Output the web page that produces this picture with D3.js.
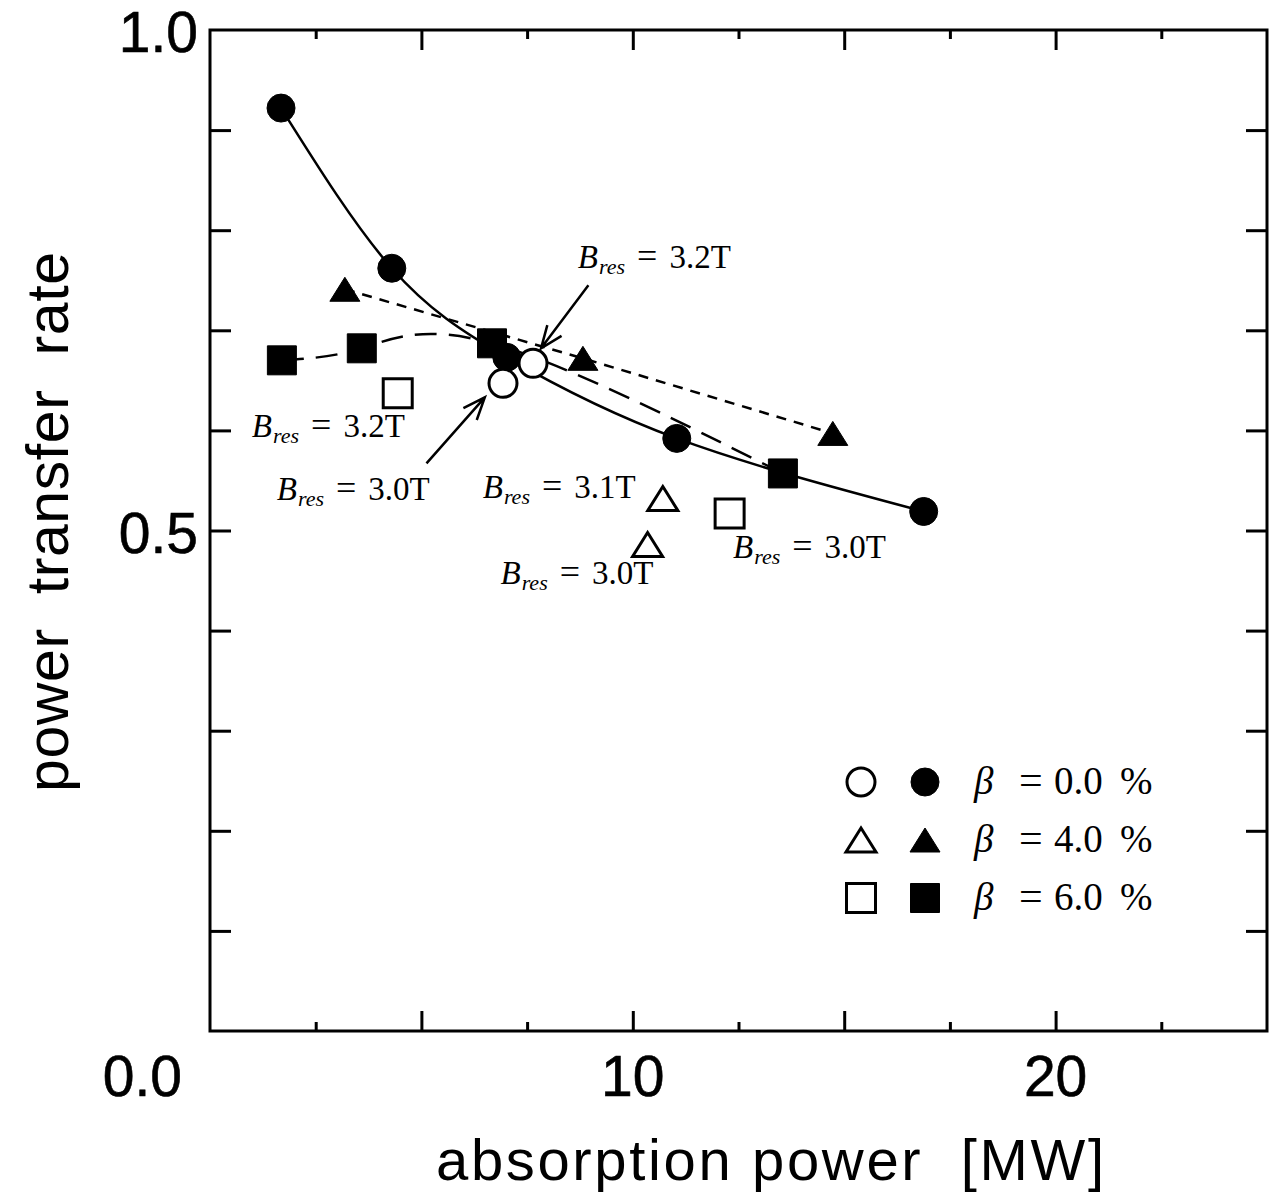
<!DOCTYPE html>
<html>
<head>
<meta charset="utf-8">
<script src="https://cdn.jsdelivr.net/npm/d3@7/dist/d3.min.js"></script>
<style>
  body { margin: 0; background: #fff; }
  svg { display: block; }
</style>
</head>
<body>
<div id="chart"></div>
<script>
// values: [absorption power MW, power transfer rate]
var circlesFilled = [[1.68, 0.922], [4.30, 0.762], [7.02, 0.673], [11.04, 0.592], [16.88, 0.519]];
var circlesOpen = [[6.93, 0.647], [7.64, 0.667]];
var trianglesFilled = [[3.19, 0.741], [8.82, 0.672], [14.73, 0.597]];
var trianglesOpen = [[10.71, 0.532], [10.35, 0.486]];
var squaresFilled = [[1.70, 0.670], [3.59, 0.682], [6.67, 0.687], [13.55, 0.557]];
var squaresOpen = [[4.44, 0.637], [12.29, 0.517]];

var xMajorTicks = [5, 10, 15, 20];
var xMinorTicks = [2.5, 7.5, 12.5, 17.5, 22.5];
var yTicks = [0.1, 0.2, 0.3, 0.4, 0.5, 0.6, 0.7, 0.8, 0.9];
var xTickLabels = [10, 20];
var yTickLabels = [0.5, 1.0];
var betaLabels = ['0.0', '4.0', '6.0'];
var bresLabels = ['3.2T', '3.2T', '3.0T', '3.1T', '3.0T', '3.0T'];

var width = 1280;
var height = 1197;
var plotLeft = 210, plotRight = 1267, plotTop = 30, plotBottom = 1031;
var sans = 'Liberation Sans, Arial, Helvetica, sans-serif';
var serif = 'Liberation Serif, Times New Roman, serif';

var x = d3.scaleLinear().domain([0, 25]).range([plotLeft, plotRight]);
var y = d3.scaleLinear().domain([0, 1]).range([plotBottom, plotTop]);

var svg = d3.select('#chart').append('svg')
            .attr('width', width)
            .attr('height', height);

// ticks on all four sides, pointing inward
var tickGroup = function(axis, tx, ty){
  var g = svg.append('g')
    .attr('transform', 'translate(' + tx + ',' + ty + ')')
    .call(axis);
  g.select('.domain').remove();
  g.selectAll('line').attr('stroke', '#000').attr('stroke-width', 3);
  g.selectAll('text').remove();
  return g;
}

tickGroup(d3.axisBottom(x).tickValues(xMajorTicks).tickSize(-20), 0, plotBottom);
tickGroup(d3.axisBottom(x).tickValues(xMinorTicks).tickSize(-9), 0, plotBottom);
tickGroup(d3.axisTop(x).tickValues(xMajorTicks).tickSize(-20), 0, plotTop);
tickGroup(d3.axisTop(x).tickValues(xMinorTicks).tickSize(-9), 0, plotTop);
tickGroup(d3.axisLeft(y).tickValues(yTicks).tickSize(-21), plotLeft, 0);
tickGroup(d3.axisRight(y).tickValues(yTicks).tickSize(-21), plotRight, 0);

svg.append('rect')
  .attr('x', plotLeft).attr('y', plotTop)
  .attr('width', plotRight - plotLeft).attr('height', plotBottom - plotTop)
  .attr('fill', 'none')
  .attr('stroke', '#000')
  .attr('stroke-width', 3);

// tick labels (scan looks a little heavy, so a thin stroke)
svg.selectAll('.xlab').data(xTickLabels)
  .enter().append('text')
  .attr('x', function(d){ return x(d); })
  .attr('y', 1096)
  .attr('text-anchor', 'middle')
  .attr('font-family', sans)
  .attr('font-size', 57)
  .attr('stroke', '#000').attr('stroke-width', 0.6)
  .text(function(d){ return d; });

svg.selectAll('.ylab').data(yTickLabels)
  .enter().append('text')
  .attr('x', 198)
  .attr('y', function(d){ return y(d) + 22; })
  .attr('text-anchor', 'end')
  .attr('font-family', sans)
  .attr('font-size', 57)
  .attr('stroke', '#000').attr('stroke-width', 0.6)
  .text(function(d){ return d.toFixed(1); });

svg.append('text')
  .attr('x', 182).attr('y', 1096)
  .attr('text-anchor', 'end')
  .attr('font-family', sans)
  .attr('font-size', 57)
  .attr('stroke', '#000').attr('stroke-width', 0.6)
  .text('0.0');

// axis titles
svg.append('text')
  .attr('x', 436).attr('y', 1180)
  .attr('font-family', sans)
  .attr('font-size', 58)
  .attr('textLength', 668)
  .attr('xml:space', 'preserve')
  .text('absorption power  [MW]');

svg.append('text')
  .attr('transform', 'translate(68,522) rotate(-90)')
  .attr('text-anchor', 'middle')
  .attr('font-family', sans)
  .attr('font-size', 59)
  .attr('textLength', 540)
  .attr('xml:space', 'preserve')
  .text('power  transfer  rate');

// curves
var line = function(curve){
  return d3.line()
    .x(function(d){ return x(d[0]); })
    .y(function(d){ return y(d[1]); })
    .curve(curve);
}

svg.append('path')
  .attr('d', line(d3.curveNatural)(circlesFilled))
  .attr('fill', 'none').attr('stroke', '#000').attr('stroke-width', 2.5);

svg.append('path')
  .attr('d', line(d3.curveLinear)(trianglesFilled))
  .attr('fill', 'none').attr('stroke', '#000').attr('stroke-width', 2.5)
  .attr('stroke-dasharray', '10,8');

svg.append('path')
  .attr('d', line(d3.curveNatural)(squaresFilled))
  .attr('fill', 'none').attr('stroke', '#000').attr('stroke-width', 2.5)
  .attr('stroke-dasharray', '22,12');

// marker shapes
var shape = function(kind){
  if(kind == 'circle') return d3.symbol().type(d3.symbolCircle).size(Math.PI * 14 * 14)();
  if(kind == 'square') return 'M-14.5,-14.5H14.5V14.5H-14.5Z';
  return 'M0,-12L15,12L-15,12Z';
}

var drawMarkers = function(data, kind, filled){
  svg.selectAll(null).data(data)
    .enter().append('path')
    .attr('d', shape(kind))
    .attr('transform', function(d){ return 'translate(' + x(d[0]) + ',' + y(d[1]) + ')'; })
    .attr('fill', filled ? '#000' : '#fff')
    .attr('stroke', '#000')
    .attr('stroke-width', filled ? 1 : 3);
}

drawMarkers(squaresOpen, 'square', false);
drawMarkers(trianglesOpen, 'triangle', false);
drawMarkers(squaresFilled, 'square', true);
drawMarkers(trianglesFilled, 'triangle', true);
drawMarkers(circlesFilled, 'circle', true);
drawMarkers(circlesOpen, 'circle', false);

// B_res annotations, anchored in data units (left edge, baseline)
var bresPos = [[8.70, 0.762], [0.99, 0.593], [1.58, 0.53], [6.45, 0.532], [6.87, 0.447], [12.37, 0.473]];

var bres = svg.selectAll('.bres').data(bresLabels)
  .enter().append('text')
  .attr('x', function(d, i){ return x(bresPos[i][0]); })
  .attr('y', function(d, i){ return y(bresPos[i][1]); })
  .attr('font-family', serif)
  .attr('font-size', 33);
bres.append('tspan').attr('font-style', 'italic').text('B');
bres.append('tspan').attr('font-style', 'italic').attr('font-size', 22)
  .attr('dx', 1).attr('dy', 6).text('res');
bres.append('tspan').attr('dx', 12).attr('dy', -6).attr('font-size', 36).text('=');
bres.append('tspan').attr('dx', 12).text(function(d){ return d; });

// arrows pointing to the open circles
var arrows = [[[8.95, 0.745], [7.83, 0.682]], [[5.12, 0.567], [6.50, 0.633]]];

var arrow = function(a){
  var x1 = x(a[0][0]), y1 = y(a[0][1]), x2 = x(a[1][0]), y2 = y(a[1][1]);
  var ang = Math.atan2(y2 - y1, x2 - x1);
  var head = 24, spread = 0.38;
  var p = d3.path();
  p.moveTo(x1, y1); p.lineTo(x2, y2);
  p.moveTo(x2 - head * Math.cos(ang - spread), y2 - head * Math.sin(ang - spread));
  p.lineTo(x2, y2);
  p.lineTo(x2 - head * Math.cos(ang + spread), y2 - head * Math.sin(ang + spread));
  svg.append('path').attr('d', p.toString())
    .attr('fill', 'none').attr('stroke', '#000').attr('stroke-width', 2.5);
}
arrows.forEach(arrow);

// legend
var legendKinds = ['circle', 'triangle', 'square'];
var legend = svg.selectAll('.legend').data(betaLabels)
  .enter().append('g')
  .attr('transform', function(d, i){ return 'translate(0,' + (782 + i * 58) + ')'; });

legend.append('path')
  .attr('d', function(d, i){ return shape(legendKinds[i]); })
  .attr('transform', 'translate(861,0)')
  .attr('fill', '#fff').attr('stroke', '#000').attr('stroke-width', 3);
legend.append('path')
  .attr('d', function(d, i){ return shape(legendKinds[i]); })
  .attr('transform', 'translate(925,0)')
  .attr('fill', '#000').attr('stroke', '#000').attr('stroke-width', 1);

var lt = legend.append('text')
  .attr('y', 12)
  .attr('font-family', serif)
  .attr('font-size', 39);
lt.append('tspan').attr('x', 974).attr('font-style', 'italic').text('\u03b2');
lt.append('tspan').attr('x', 1019).attr('font-size', 42).text('=');
lt.append('tspan').attr('x', 1054).text(function(d){ return d; });
lt.append('tspan').attr('x', 1120).text('%');
</script>
</body>
</html>
